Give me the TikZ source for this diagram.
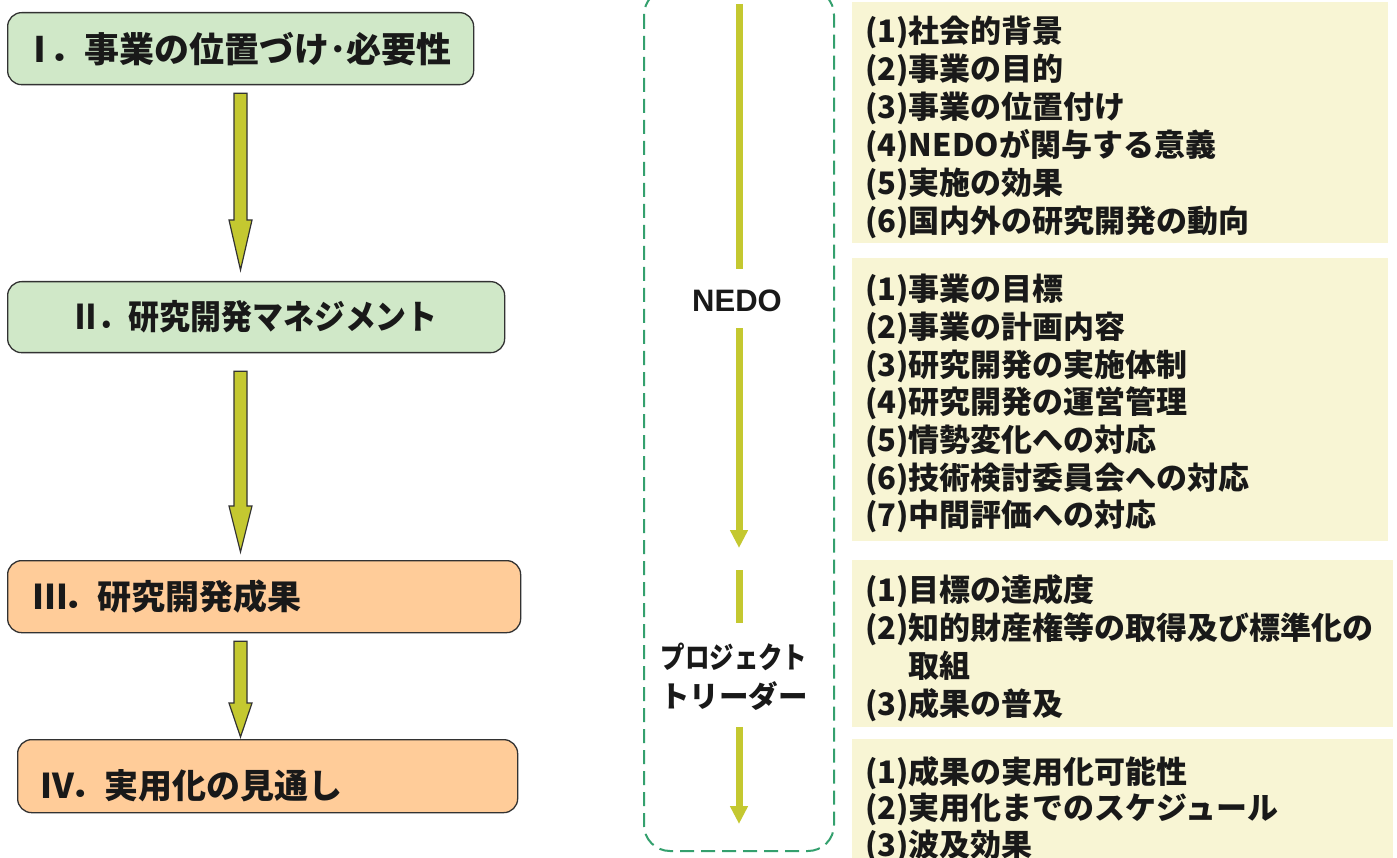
\documentclass[tikz,border=0pt]{standalone}
\usepackage{fontspec}
\setmainfont{Noto Sans CJK JP}
\newfontfamily\latinsans{Liberation Sans}
\usetikzlibrary{arrows.meta,calc}
\definecolor{boxgreen}{RGB}{208,232,200}
\definecolor{boxorange}{RGB}{255,204,153}
\definecolor{boxyellow}{RGB}{248,245,212}
\definecolor{arrowolive}{RGB}{196,200,48}
\definecolor{dashgreen}{RGB}{52,160,110}
\definecolor{edgegray}{RGB}{50,50,50}
\newcommand\blkarrow[3]{%
  \path[blockarrow] let \p1=#1, \p2=#2 in
    (\x1-6.5pt,\y1) -- (\x1+6.5pt,\y1) -- (\x1+6.5pt,\y2+#3) -- (\x1+11.5pt,\y2+#3)
    -- (\x1,\y2) -- (\x1-11.5pt,\y2+#3) -- (\x1-6.5pt,\y2+#3) -- cycle;}
\begin{document}
\begin{tikzpicture}[x=1pt,y=-1pt,
  lbox/.style={draw=edgegray, line width=1.3pt, rounded corners=14pt, inner sep=0pt, anchor=north west},
  gbox/.style={lbox, fill=boxgreen},
  obox/.style={lbox, fill=boxorange},
  ltext/.style={anchor=west, inner sep=0pt, font=\bfseries\fontsize{34}{40}\selectfont, text=black!90},
  rbox/.style={fill=boxyellow, anchor=north west, inner sep=0pt},
  rtext/.style={anchor=north west, inner sep=0pt, align=left, text=black!90},
  blockarrow/.style={draw=edgegray, line width=1.2pt, fill=arrowolive, line join=miter},
  vline/.style={draw=arrowolive, line width=7pt},
  varrow/.style={vline, -{Triangle[length=18pt,width=17pt]}},
  dashbox/.style={draw=dashgreen, line width=2pt, dash pattern=on 14pt off 7pt, rounded corners=26pt},
  plabel/.style={inner sep=0pt, align=center, font=\bfseries\fontsize{29.5}{39}\selectfont, text=black!90},
]
\clip (0,0) rectangle (1397,858);
\fill[white] (0,0) rectangle (1397,858);

% left boxes
\node[gbox, minimum width=466pt, minimum height=72pt] (b1) at (7,12) {};
\node[gbox, minimum width=497pt, minimum height=71pt] (b2) at (7,281) {};
\node[obox, minimum width=513pt, minimum height=72pt] (b3) at (7,560) {};
\node[obox, minimum width=500pt, minimum height=73pt] (b4) at (17,739) {};

\node[ltext, font=\bfseries\fontsize{35}{40}\selectfont] (t1) at (22,49) {Ⅰ\kern-8pt．事業の位置づけ･必要性};
\node[ltext] (t2) at (70,317) {\scalebox{0.91}[1]{Ⅱ\kern-4pt．研究開発マネジメント}};
\node[ltext] (t3) at (33,597) {Ⅲ\kern-4pt．研究開発成果};
\node[ltext] (t4) at (40,786) {Ⅳ\kern-4pt．実用化の見通し};

\coordinate (ax) at (240.5,0);
\blkarrow{($(b1.south -| ax)+(0,8)$)}{($(b2.north -| ax)+(0,-11)$)}{50pt}
\blkarrow{($(b2.south -| ax)+(0,18)$)}{($(b3.north -| ax)+(0,-8)$)}{46pt}
\blkarrow{($(b3.south -| ax)+(0,8)$)}{($(b4.north -| ax)+(0,-2)$)}{34pt}

% dashed lane
\draw[dashbox] (644,-11) rectangle (834,851);
\coordinate (vtop) at (739,4);
\node[inner sep=0pt, font=\latinsans\bfseries\fontsize{31}{36}\selectfont, text=black!90] (nedo) at (737,301) {NEDO};
\draw[vline] (vtop) -- ($(nedo.north -| vtop)+(0,-21)$);
\coordinate (vend1) at (739,548);
\draw[varrow] ($(nedo.south -| vtop)+(0,16)$) -- (vend1);
\coordinate (vstart2) at (739,570);
\node[plabel] (pl) at (734,677) {\scalebox{0.83}[1]{プロジェクト}\\トリーダー};
\draw[vline] (vstart2) -- ($(pl.north -| vtop)+(0,-20)$);
\coordinate (vend2) at (739,824);
\draw[varrow] ($(pl.south -| vtop)+(0,16)$) -- (vend2);

% right boxes
\node[rbox, minimum width=536pt, minimum height=241pt] (r1) at (852,2) {};
\node[rbox, minimum width=536pt, minimum height=283pt] (r2) at (852,258) {};
\node[rbox, minimum width=541pt, minimum height=167pt] (r3) at (852,560) {};
\node[rbox, minimum width=541pt, minimum height=140pt] (r4) at (852,739) {};

\node[rtext, font=\bfseries\fontsize{31}{38}\selectfont] (rt1) at (865,16)
 {(1)社会的背景\\(2)事業の目的\\(3)事業の位置付け\\(4)NEDOが関与する意義\\(5)実施の効果\\(6)国内外の研究開発の動向};
\node[rtext, font=\bfseries\fontsize{31}{37.7}\selectfont] (rt2) at (865,274)
 {(1)事業の目標\\(2)事業の計画内容\\(3)研究開発の実施体制\\(4)研究開発の運営管理\\(5)情勢変化への対応\\(6)技術検討委員会への対応\\(7)中間評価への対応};
\node[rtext, font=\bfseries\fontsize{31}{38}\selectfont] (rt3) at (865,574)
 {(1)目標の達成度\\(2)知的財産権等の取得及び標準化の\\\hphantom{(2)}取組\\(3)成果の普及};
\node[rtext, font=\bfseries\fontsize{31}{36.5}\selectfont] (rt4) at (865,756)
 {(1)成果の実用化可能性\\(2)実用化までのスケジュール\\(3)波及効果};
\end{tikzpicture}
\end{document}
